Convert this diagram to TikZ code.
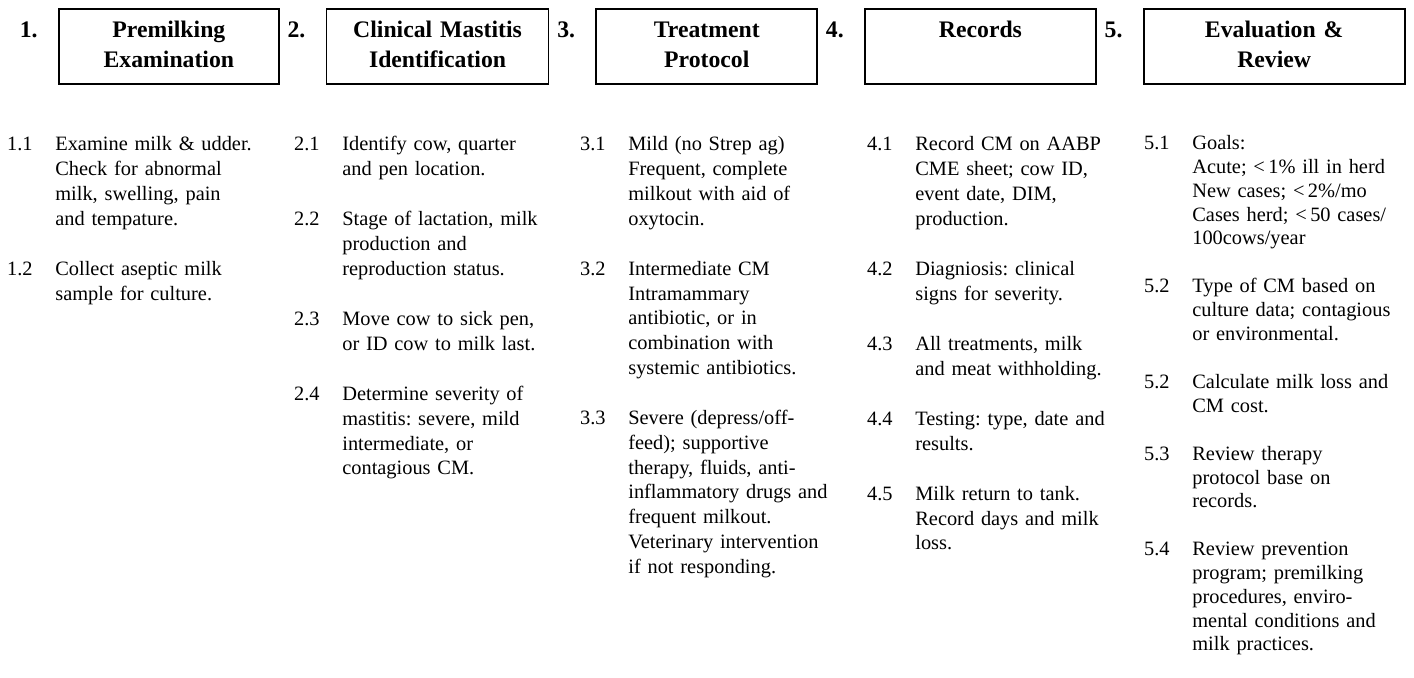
\documentclass[tikz,border=0pt]{standalone}
\usepackage{fontspec}
\setmainfont{Liberation Serif}
\usepackage{tikz}
\usetikzlibrary{positioning}
\frenchspacing
\newcommand{\HdFont}{\fontsize{13.5}{17}\selectfont\bfseries}
\newcommand{\ItFont}{\fontsize{11.6}{14.1}\selectfont}
\newcommand{\ItFontT}{\fontsize{11.6}{13.5}\selectfont}

\begin{document}
\begin{tikzpicture}[
        x=0.02cm, y=0.02cm,
        node distance=14.1pt,
        hd/.style={rectangle, draw, line width=1pt, minimum height=1.5cm,
                   inner sep=0pt},
        ttl/.style={font=\HdFont, text width=4.2cm, align=center, inner sep=0pt,
                    execute at begin node=\strut},
        hnum/.style={font=\HdFont, inner sep=0pt, execute at begin node=\strut},
        item/.style={font=\ItFont, text width=5cm, align=left, inner sep=0pt,
                     execute at begin node=\strut, execute at end node=\strut},
        itemt/.style={item, font=\ItFontT},
        inum/.style={font=\ItFont, inner sep=0pt, execute at begin node=\strut},
      ]
        \useasboundingbox (0,0) rectangle (1414,-677);

        % header boxes
        \node[hd, minimum width=4.4cm, anchor=north west] (hd1) at (58,-8) {};
        \node[hd, minimum width=4.44cm, right=0.92cm of hd1] (hd2) {};
        \node[hd, minimum width=4.42cm, right=0.92cm of hd2] (hd3) {};
        \node[hd, minimum width=4.62cm, right=0.92cm of hd3] (hd4) {};
        \node[hd, minimum width=5.22cm, right=0.92cm of hd4] (hd5) {};

        \node[ttl, below=0.16cm of hd1.north] (ttl1) {Premilking\\Examination};
        \node[ttl, below=0.16cm of hd2.north] (ttl2) {Clinical Mastitis\\Identification};
        \node[ttl, below=0.16cm of hd3.north] (ttl3) {Treatment\\Protocol};
        \node[ttl, below=0.16cm of hd4.north] (ttl4) {Records};
        \node[ttl, below=0.16cm of hd5.north] (ttl5) {Evaluation \&\\Review};

        \node[hnum, left=0.4cm of hd1.north west, anchor=north east, yshift=-0.16cm] (hn1) {1.};
        \node[hnum, left=0.4cm of hd2.north west, anchor=north east, yshift=-0.16cm] (hn2) {2.};
        \node[hnum, left=0.4cm of hd3.north west, anchor=north east, yshift=-0.16cm] (hn3) {3.};
        \node[hnum, left=0.4cm of hd4.north west, anchor=north east, yshift=-0.16cm] (hn4) {4.};
        \node[hnum, left=0.4cm of hd5.north west, anchor=north east, yshift=-0.16cm] (hn5) {5.};

        % column 1
        \node[item, anchor=north west] (t11) at (55,-133)
          {Examine milk \& udder.\\Check for abnormal\\milk, swelling, pain\\and tempature.};
        \node[item, below=of t11.south west, anchor=north west] (t12)
          {Collect aseptic milk\\sample for culture.};

        % column 2
        \node[item, anchor=north west] (t21) at (342,-133)
          {Identify cow, quarter\\and pen location.};
        \node[item, below=of t21.south west, anchor=north west] (t22)
          {Stage of lactation, milk\\production and\\reproduction status.};
        \node[item, below=of t22.south west, anchor=north west] (t23)
          {Move cow to sick pen,\\or ID cow to milk last.};
        \node[item, below=of t23.south west, anchor=north west] (t24)
          {Determine severity of\\mastitis: severe, mild\\intermediate, or\\contagious CM.};

        % column 3
        \node[item, anchor=north west] (t31) at (628,-133)
          {Mild (no Strep ag)\\Frequent, complete\\milkout with aid of\\oxytocin.};
        \node[item, below=of t31.south west, anchor=north west] (t32)
          {Intermediate CM\\Intramammary\\antibiotic, or in\\combination with\\systemic antibiotics.};
        \node[item, below=of t32.south west, anchor=north west] (t33)
          {Severe (depress/off-\\feed); supportive\\therapy, fluids, anti-\\inflammatory drugs and\\frequent milkout.\\Veterinary intervention\\if not responding.};

        % column 4
        \node[item, anchor=north west] (t41) at (915,-133)
          {Record CM on AABP\\CME sheet; cow ID,\\event date, DIM,\\production.};
        \node[item, below=of t41.south west, anchor=north west] (t42)
          {Diagniosis: clinical\\signs for severity.};
        \node[item, below=of t42.south west, anchor=north west] (t43)
          {All treatments, milk\\and meat withholding.};
        \node[item, below=of t43.south west, anchor=north west] (t44)
          {Testing: type, date and\\results.};
        \node[item, below=of t44.south west, anchor=north west] (t45)
          {Milk return to tank.\\Record days and milk\\loss.};

        % column 5 (set a little tighter)
        \node[itemt, anchor=north west] (t51) at (1192,-133)
          {Goals:\\Acute; <\,1\% ill in herd\\New cases; <\,2\%/mo\\Cases herd; <\,50 cases/\\100cows/year};
        \node[itemt, below=13.5pt of t51.south west, anchor=north west] (t52)
          {Type of CM based on\\culture data; contagious\\or environmental.};
        \node[itemt, below=13.5pt of t52.south west, anchor=north west] (t53)
          {Calculate milk loss and\\CM cost.};
        \node[itemt, below=13.5pt of t53.south west, anchor=north west] (t54)
          {Review therapy\\protocol base on\\records.};
        \node[itemt, below=13.5pt of t54.south west, anchor=north west] (t55)
          {Review prevention\\program; premilking\\procedures, enviro-\\mental conditions and\\milk practices.};

        % item numbers
        \node[inum, left=0.44cm of t11.north west, anchor=north east] {1.1};
        \node[inum, left=0.44cm of t12.north west, anchor=north east] {1.2};
        \node[inum, left=0.44cm of t21.north west, anchor=north east] {2.1};
        \node[inum, left=0.44cm of t22.north west, anchor=north east] {2.2};
        \node[inum, left=0.44cm of t23.north west, anchor=north east] {2.3};
        \node[inum, left=0.44cm of t24.north west, anchor=north east] {2.4};
        \node[inum, left=0.44cm of t31.north west, anchor=north east] {3.1};
        \node[inum, left=0.44cm of t32.north west, anchor=north east] {3.2};
        \node[inum, left=0.44cm of t33.north west, anchor=north east] {3.3};
        \node[inum, left=0.44cm of t41.north west, anchor=north east] {4.1};
        \node[inum, left=0.44cm of t42.north west, anchor=north east] {4.2};
        \node[inum, left=0.44cm of t43.north west, anchor=north east] {4.3};
        \node[inum, left=0.44cm of t44.north west, anchor=north east] {4.4};
        \node[inum, left=0.44cm of t45.north west, anchor=north east] {4.5};
        \node[inum, font=\ItFontT, left=0.44cm of t51.north west, anchor=north east] {5.1};
        \node[inum, font=\ItFontT, left=0.44cm of t52.north west, anchor=north east] {5.2};
        \node[inum, font=\ItFontT, left=0.44cm of t53.north west, anchor=north east] {5.2};
        \node[inum, font=\ItFontT, left=0.44cm of t54.north west, anchor=north east] {5.3};
        \node[inum, font=\ItFontT, left=0.44cm of t55.north west, anchor=north east] {5.4};
      \end{tikzpicture}
\end{document}
